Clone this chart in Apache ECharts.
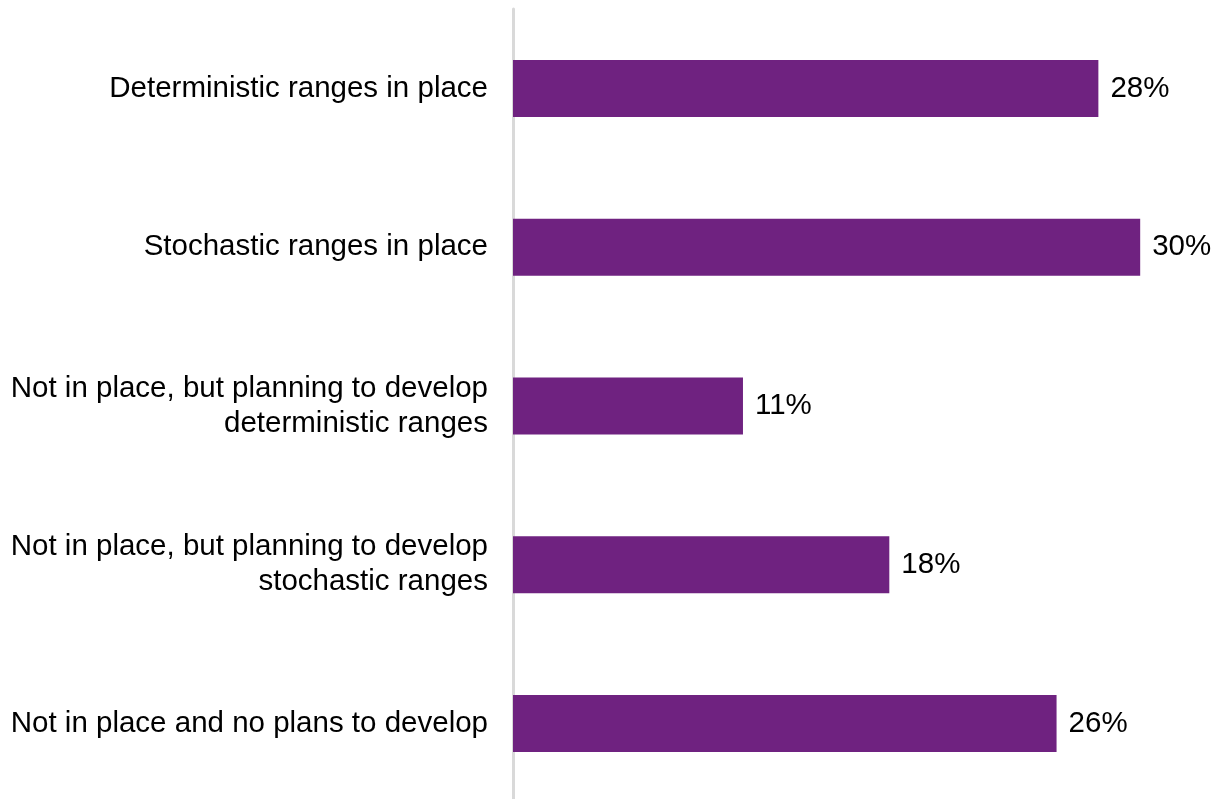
<!DOCTYPE html>
<html>
<head>
<meta charset="utf-8">
<script src="https://cdn.jsdelivr.net/npm/echarts@6/dist/echarts.min.js"></script>
<style>
  html, body { margin: 0; padding: 0; background: #ffffff; overflow: hidden; }
  /* the plot runs a few pixels past the lower window edge, so the axis line reaches the bottom */
  #chart { width: 1218px; height: 803px; }
</style>
</head>
<body>
<div id="chart"></div>
<script>
// Survey responses: status of reserve ranges
const categories = [
  'Deterministic ranges in place',
  'Stochastic ranges in place',
  'Not in place, but planning to develop\ndeterministic ranges',
  'Not in place, but planning to develop\nstochastic ranges',
  'Not in place and no plans to develop'
];
const shares = [28, 30, 11, 18, 26];

const FONT = '"Liberation Sans", Arial, sans-serif';
const chart = echarts.init(document.getElementById('chart'));

chart.setOption({
  animation: false,
  backgroundColor: '#ffffff',
  grid: { left: 513, top: 9, bottom: 0, width: 669, containLabel: false },
  xAxis: {
    type: 'value',
    min: 0,
    max: 32,
    show: false
  },
  yAxis: {
    type: 'category',
    data: categories,
    inverse: true,
    axisLine: { show: true, lineStyle: { color: '#d9d9d9', width: 3 } },
    axisTick: { show: false },
    axisLabel: {
      fontFamily: FONT,
      fontSize: 29.5,
      lineHeight: 35,
      color: '#000000',
      margin: 25,
      align: 'right'
    }
  },
  series: [{
    type: 'bar',
    data: shares,
    barWidth: 57,
    itemStyle: { color: '#6f2280' },
    label: {
      show: true,
      position: 'right',
      distance: 12,
      fontFamily: FONT,
      fontSize: 29.5,
      color: '#000000',
      formatter: p => p.value + '%'
    }
  }]
});
</script>
</body>
</html>
